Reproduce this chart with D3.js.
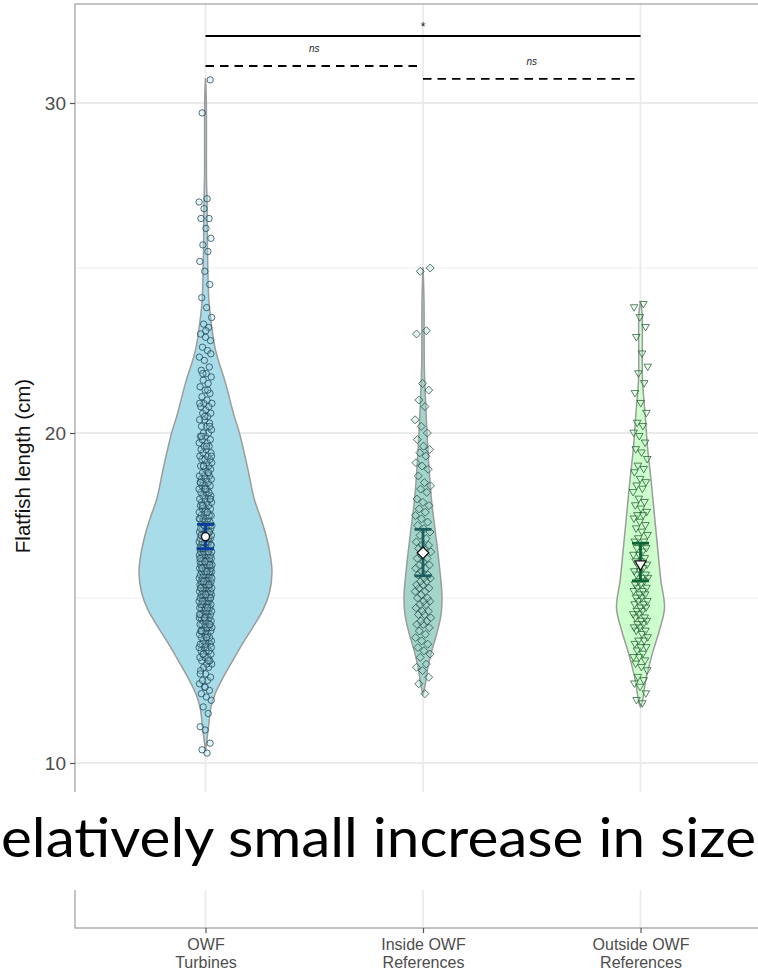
<!DOCTYPE html>
<html>
<head>
<meta charset="utf-8">
<script src="https://cdn.jsdelivr.net/npm/d3@7"></script>
<style>
  body { margin: 0; background: #fff; }
  svg { display: block; }
</style>
</head>
<body>
<svg id="chart" width="758" height="974"></svg>
<script>
// ---- data -------------------------------------------------------------
const groups = ["OWF Turbines", "Inside OWF References", "Outside OWF References"];
const groupLabels = [["OWF", "Turbines"], ["Inside OWF", "References"], ["Outside OWF", "References"]];
const yTicks = [10, 20, 30];
const yMinorTicks = [5, 15, 25];

// individual fish lengths (cm)
const turbinesLengths = [
  10.3, 10.4, 10.6,
  11.0, 11.1, 11.5, 11.7, 11.9,
  12.0, 12.1, 12.2, 12.3, 12.4, 12.5, 12.5, 12.6, 12.7, 12.8, 12.9, 12.9,
  13.0, 13.0, 13.1, 13.1, 13.2, 13.2, 13.2, 13.3, 13.3, 13.4, 13.4, 13.4, 13.5, 13.5,
  13.5, 13.6, 13.6, 13.6, 13.6, 13.7, 13.7, 13.7, 13.8, 13.8, 13.8, 13.9, 13.9, 13.9,
  14.0, 14.0, 14.0, 14.0, 14.1, 14.1, 14.1, 14.1, 14.2, 14.2, 14.2, 14.2, 14.3, 14.3,
  14.3, 14.3, 14.4, 14.4, 14.4, 14.4, 14.5, 14.5, 14.5, 14.5, 14.5, 14.6, 14.6, 14.6,
  14.6, 14.7, 14.7, 14.7, 14.7, 14.8, 14.8, 14.8, 14.8, 14.8, 14.9, 14.9, 14.9, 14.9,
  15.0, 15.0, 15.0, 15.0, 15.0, 15.1, 15.1, 15.1, 15.1, 15.1, 15.2, 15.2, 15.2, 15.2,
  15.2, 15.3, 15.3, 15.3, 15.3, 15.3, 15.4, 15.4, 15.4, 15.4, 15.4, 15.5, 15.5, 15.5,
  15.5, 15.5, 15.6, 15.6, 15.6, 15.6, 15.6, 15.7, 15.7, 15.7, 15.7, 15.7, 15.8, 15.8,
  15.8, 15.8, 15.8, 15.9, 15.9, 15.9, 15.9, 15.9,
  16.0, 16.0, 16.0, 16.0, 16.0, 16.1, 16.1, 16.1, 16.1, 16.1, 16.2, 16.2, 16.2, 16.2,
  16.2, 16.3, 16.3, 16.3, 16.3, 16.3, 16.4, 16.4, 16.4, 16.4, 16.4, 16.5, 16.5, 16.5,
  16.5, 16.5, 16.6, 16.6, 16.6, 16.6, 16.6, 16.7, 16.7, 16.7, 16.7, 16.7, 16.8, 16.8,
  16.8, 16.8, 16.9, 16.9, 16.9, 16.9,
  17.0, 17.0, 17.0, 17.0, 17.1, 17.1, 17.1, 17.1, 17.2, 17.2, 17.2, 17.3, 17.3, 17.3,
  17.3, 17.4, 17.4, 17.4, 17.5, 17.5, 17.5, 17.5, 17.6, 17.6, 17.6, 17.7, 17.7, 17.7,
  17.8, 17.8, 17.8, 17.9, 17.9, 17.9,
  18.0, 18.0, 18.0, 18.1, 18.1, 18.1, 18.2, 18.2, 18.2, 18.3, 18.3, 18.3, 18.4, 18.4,
  18.4, 18.5, 18.5, 18.5, 18.6, 18.6, 18.6, 18.7, 18.7, 18.7, 18.8, 18.8, 18.9, 18.9,
  19.0, 19.0, 19.0, 19.1, 19.1, 19.2, 19.2, 19.2, 19.3, 19.3, 19.4, 19.4, 19.5, 19.5,
  19.6, 19.6, 19.7, 19.7, 19.8, 19.8, 19.9, 19.9,
  20.0, 20.0, 20.1, 20.2, 20.2, 20.3, 20.4, 20.4, 20.5, 20.6, 20.6, 20.7, 20.8, 20.8,
  20.9, 20.9,
  21.0, 21.1, 21.2, 21.3, 21.4, 21.5, 21.6, 21.7, 21.8, 21.9,
  22.0, 22.2, 22.3, 22.5, 22.6, 22.8, 22.9,
  23.0, 23.2, 23.3, 23.5, 23.8,
  24.1, 24.5, 24.9,
  25.2, 25.5, 25.7, 25.9,
  26.2, 26.5, 26.5, 26.8,
  27.0, 27.1,
  29.7, 30.7,
  // second sampling campaign
  12.3, 12.7, 13.1, 13.3, 13.5, 13.8, 14.0, 14.2, 14.4, 14.5, 14.7, 14.9,
  15.0, 15.1, 15.3, 15.4, 15.5, 15.6, 15.8, 15.9, 16.0, 16.1, 16.2, 16.4,
  16.5, 16.6, 16.8, 16.9, 17.0, 17.2, 17.4, 17.6, 17.8, 18.0, 18.3, 18.5,
  18.8, 19.0, 19.3, 19.6, 19.9, 20.2, 20.5, 20.9, 21.3, 21.8, 22.4, 23.1
];

const insideLengths = [
  12.1, 12.4, 12.6, 12.8, 12.9,
  13.0, 13.2, 13.3, 13.4, 13.5, 13.6, 13.7, 13.8, 13.9,
  14.0, 14.1, 14.2, 14.2, 14.3, 14.3, 14.4, 14.5, 14.5, 14.6, 14.6, 14.7, 14.8, 14.8,
  14.9, 14.9,
  15.0, 15.0, 15.1, 15.2, 15.2, 15.3, 15.3, 15.4, 15.4, 15.5, 15.5, 15.6, 15.6, 15.7,
  15.7, 15.8, 15.9, 15.9,
  16.0, 16.0, 16.1, 16.2, 16.2, 16.3, 16.4, 16.5, 16.5, 16.6, 16.6, 16.7, 16.8, 16.9,
  17.0, 17.1, 17.2, 17.3, 17.4, 17.5, 17.6, 17.7, 17.8, 17.9,
  18.0, 18.2, 18.3, 18.4, 18.5, 18.7, 18.9,
  19.0, 19.1, 19.3, 19.4, 19.5, 19.6, 19.8,
  20.0, 20.2, 20.4, 20.8,
  21.0, 21.3, 21.5,
  23.0, 23.1,
  24.9, 25.0
];

const outsideLengths = [
  11.8, 11.9,
  12.1, 12.3, 12.4, 12.5, 12.6, 12.8, 12.9,
  13.0, 13.1, 13.2, 13.2, 13.3, 13.4, 13.5, 13.5, 13.6, 13.7, 13.7, 13.8, 13.9,
  14.0, 14.0, 14.1, 14.1, 14.2, 14.2, 14.3, 14.3, 14.4, 14.4, 14.5, 14.5, 14.6, 14.6,
  14.7, 14.7, 14.8, 14.8, 14.9, 14.9,
  15.0, 15.0, 15.1, 15.1, 15.2, 15.2, 15.3, 15.3, 15.4, 15.4, 15.5, 15.5, 15.6, 15.6,
  15.7, 15.7, 15.8, 15.8, 15.9,
  16.0, 16.0, 16.1, 16.1, 16.2, 16.3, 16.3, 16.4, 16.5, 16.5, 16.6, 16.7, 16.7, 16.8,
  16.9,
  17.0, 17.1, 17.2, 17.3, 17.4, 17.5, 17.5, 17.6, 17.7, 17.8, 17.9,
  18.0, 18.2, 18.3, 18.4, 18.5, 18.6, 18.8, 18.9,
  19.0, 19.2, 19.4, 19.5, 19.7, 19.9,
  20.0, 20.2, 20.3, 20.6, 20.9,
  21.2, 21.5, 21.8,
  22.0, 22.4, 22.9,
  23.2, 23.5, 23.8, 23.9
];

// kernel density profiles: [length (cm), relative density]
const turbinesDensity = [
  [10.36, 0], [11.09, 0.045], [11.70, 0.083], [12.12, 0.15], [12.61, 0.27], [13.12, 0.414],
  [13.64, 0.564], [14.12, 0.714], [14.64, 0.865], [15.15, 0.96], [15.79, 1.0], [16.45, 0.96],
  [16.97, 0.90], [17.45, 0.827], [17.97, 0.737], [18.97, 0.63], [20.0, 0.51], [20.48, 0.436],
  [21.52, 0.30], [22.52, 0.15], [23.52, 0.075], [24.03, 0.05], [25.55, 0.03], [27.06, 0.023],
  [27.67, 0.015], [30.09, 0.012], [30.76, 0]
];
const insideDensity = [
  [12.06, 0], [12.42, 0.038], [12.91, 0.075], [13.42, 0.135], [13.94, 0.21], [14.48, 0.27],
  [15.03, 0.286], [15.94, 0.248], [16.97, 0.188], [17.97, 0.128], [18.97, 0.09], [20.0, 0.06],
  [21.0, 0.038], [22.0, 0.02], [24.03, 0.015], [25.03, 0]
];
const outsideDensity = [
  [11.70, 0], [11.82, 0.023], [12.52, 0.08], [13.33, 0.18], [14.03, 0.286], [14.70, 0.361],
  [15.55, 0.305], [16.55, 0.256], [17.58, 0.206], [18.58, 0.158], [19.58, 0.105], [20.61, 0.068],
  [21.61, 0.03], [23.64, 0.023], [23.97, 0]
];

// group means with confidence intervals (cm)
const groupMeans = [16.86, 16.37, 16.0];
const ciLower = [16.49, 15.67, 15.52];
const ciUpper = [17.23, 17.08, 16.66];

// pairwise comparisons
const comparePairs = [[0, 2], [0, 1], [1, 2]];
const compareY = [32.03, 31.12, 30.73];
const compareLabels = ["*", "ns", "ns"];
const compareDashed = [false, true, true];

const captionText = "elatively small increase in size";

// ---- styling ---------------------------------------------------------
const fillColors = ["#A8DCE8", "#A3D5CA", "#CCFFCC"];
const pointStrokes = ["#173F4C", "#1E4540", "#1F5430"];
const barColors = ["#0B3D9C", "#1E5E5E", "#0D6535"];
const shapes = ["circle", "diamond", "triangle"];
const jitterWidth = [6.5, 8, 7.5];

// ---- layout ----------------------------------------------------------
const svg = d3.select("#chart");
const panel = { left: 75, top: 4, right: 771, bottom: 928 };

const x = d3.scalePoint()
  .domain(groups)
  .range([panel.left, panel.right])
  .padding(0.6);

const y = d3.scaleLinear()
  .domain([5, 33])
  .range([panel.bottom, panel.top]);

const widthScale = d3.scaleLinear().domain([0, 1]).range([0, 66.5]);

// grid
const grid = svg.append("g");
grid.selectAll(".minor").data(yMinorTicks).join("line")
  .attr("x1", panel.left).attr("x2", panel.right)
  .attr("y1", d => y(d)).attr("y2", d => y(d))
  .attr("stroke", "#EFEFEF").attr("stroke-width", 1);
grid.selectAll(".major").data(yTicks).join("line")
  .attr("x1", panel.left).attr("x2", panel.right)
  .attr("y1", d => y(d)).attr("y2", d => y(d))
  .attr("stroke", "#EBEBEB").attr("stroke-width", 1.8);
grid.selectAll(".vmajor").data(groups).join("line")
  .attr("x1", d => x(d)).attr("x2", d => x(d))
  .attr("y1", panel.top).attr("y2", panel.bottom)
  .attr("stroke", "#EBEBEB").attr("stroke-width", 1.8);

// violins
const densities = [turbinesDensity, insideDensity, outsideDensity];
const violin = (cx) => d3.area()
  .y(d => y(d[0]))
  .x0(d => cx - widthScale(d[1]))
  .x1(d => cx + widthScale(d[1]))
  .curve(d3.curveCatmullRom.alpha(0.5));

groups.forEach((g, i) => {
  svg.append("path")
    .datum(densities[i])
    .attr("d", violin(x(g)))
    .attr("fill", fillColors[i])
    .attr("stroke", "#9C9C9C")
    .attr("stroke-width", 1.5);
});

// jittered observations (golden-ratio spread, deterministic)
const lengths = [turbinesLengths, insideLengths, outsideLengths];
const phi = 0.6180339887;
const symbolPath = {
  circle: d3.symbol().type(d3.symbolCircle).size(32),
  diamond: (s) => `M0,${-s}L${s},0L0,${s}L${-s},0Z`,
  triangle: (s) => `M${-s},${-s * 0.75}L${s},${-s * 0.75}L0,${s * 0.95}Z`
};

groups.forEach((g, i) => {
  const cx = x(g);
  const pts = svg.append("g");
  lengths[i].forEach((v, k) => {
    const off = (((k + 1) * phi) % 1 - 0.5) * 2 * jitterWidth[i];
    let d;
    if (shapes[i] === "circle") d = symbolPath.circle();
    else if (shapes[i] === "diamond") d = symbolPath.diamond(4);
    else d = symbolPath.triangle(3.8);
    pts.append("path")
      .attr("d", d)
      .attr("transform", `translate(${cx + off},${y(v)})`)
      .attr("fill", fillColors[i])
      .attr("fill-opacity", 0.3)
      .attr("stroke", pointStrokes[i])
      .attr("stroke-opacity", 0.72)
      .attr("stroke-width", 1);
  });
});

// mean ± CI
groups.forEach((g, i) => {
  const cx = x(g);
  const eb = svg.append("g")
    .attr("stroke", barColors[i])
    .attr("stroke-width", 2.8);
  eb.append("line").attr("x1", cx).attr("x2", cx)
    .attr("y1", y(ciLower[i])).attr("y2", y(ciUpper[i]));
  [ciLower[i], ciUpper[i]].forEach(v => {
    eb.append("line").attr("x1", cx - 8.5).attr("x2", cx + 8.5)
      .attr("y1", y(v)).attr("y2", y(v));
  });
  let d;
  if (shapes[i] === "circle") d = d3.symbol().type(d3.symbolCircle).size(50)();
  else if (shapes[i] === "diamond") d = symbolPath.diamond(5.8);
  else d = symbolPath.triangle(5.6);
  svg.append("path")
    .attr("d", d)
    .attr("transform", `translate(${cx},${y(groupMeans[i])})`)
    .attr("fill", "#fff")
    .attr("stroke", "#111")
    .attr("stroke-width", 1.3);
});

// comparison brackets
comparePairs.forEach((p, i) => {
  const x1 = x(groups[p[0]]), x2 = x(groups[p[1]]);
  const yy = y(compareY[i]);
  svg.append("line")
    .attr("x1", x1).attr("x2", x2).attr("y1", yy).attr("y2", yy)
    .attr("stroke", "#000").attr("stroke-width", 1.9)
    .attr("stroke-dasharray", compareDashed[i] ? "8.5,6" : null);
  const isStar = compareLabels[i] === "*";
  svg.append("text")
    .attr("x", (x1 + x2) / 2)
    .attr("y", yy - (isStar ? 5 : 14))
    .attr("text-anchor", "middle")
    .attr("font-family", "Liberation Sans, Arial, sans-serif")
    .attr("font-size", isStar ? 12 : 10)
    .attr("font-style", isStar ? "normal" : "italic")
    .attr("fill", "#222")
    .text(compareLabels[i]);
});

// panel border
svg.append("rect")
  .attr("x", panel.left).attr("y", panel.top)
  .attr("width", panel.right - panel.left).attr("height", panel.bottom - panel.top)
  .attr("fill", "none").attr("stroke", "#A6A6A6").attr("stroke-width", 1.3);

// y axis
const yAxis = svg.append("g")
  .attr("transform", `translate(${panel.left},0)`)
  .call(d3.axisLeft(y).tickValues(yTicks).tickSize(5).tickPadding(4).tickFormat(d3.format("d")));
yAxis.select(".domain").remove();
yAxis.selectAll(".tick line").attr("stroke", "#555").attr("stroke-width", 1.2);
yAxis.selectAll(".tick text")
  .attr("font-family", "Liberation Sans, Arial, sans-serif")
  .attr("font-size", 19).attr("fill", "#4D4D4D");

// x axis
const xAxis = svg.append("g")
  .attr("transform", `translate(0,${panel.bottom})`)
  .call(d3.axisBottom(x).tickSize(5).tickFormat(""));
xAxis.select(".domain").remove();
xAxis.selectAll(".tick line").attr("stroke", "#555").attr("stroke-width", 1.2);
xAxis.selectAll(".tick").each(function (d, i) {
  const t = d3.select(this).append("text")
    .attr("text-anchor", "middle")
    .attr("font-family", "Liberation Sans, Arial, sans-serif")
    .attr("font-size", 16).attr("fill", "#4D4D4D");
  groupLabels[i].forEach((line, j) => {
    t.append("tspan").attr("x", 0).attr("y", 22 + j * 18).text(line);
  });
});

// axis title
svg.append("text")
  .attr("transform", `translate(30,${(panel.top + panel.bottom) / 2}) rotate(-90)`)
  .attr("text-anchor", "middle")
  .attr("font-family", "Liberation Sans, Arial, sans-serif")
  .attr("font-size", 20.5).attr("fill", "#111")
  .text("Flatfish length (cm)");

// caption band across the lower part
svg.append("rect")
  .attr("x", 0).attr("y", 792).attr("width", 758).attr("height", 98)
  .attr("fill", "#fff");
svg.append("text")
  .attr("x", 1).attr("y", 857)
  .attr("font-family", "Lato, 'Open Sans', sans-serif")
  .attr("font-size", 54).attr("fill", "#000")
  .attr("textLength", 755)
  .attr("lengthAdjust", "spacingAndGlyphs")
  .text(captionText);
</script>
</body>
</html>
